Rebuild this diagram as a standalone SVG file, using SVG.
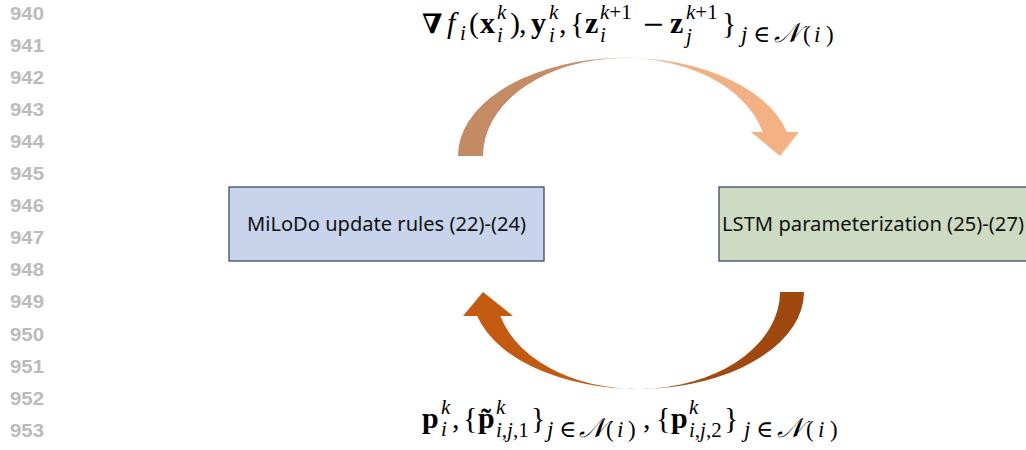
<svg xmlns="http://www.w3.org/2000/svg" width="1026" height="450" viewBox="0 0 1026 450">
<defs>
<linearGradient id="gTop" gradientUnits="userSpaceOnUse" x1="458" y1="0" x2="799" y2="0">
<stop offset="0" stop-color="#C38A63"/>
<stop offset="0.47" stop-color="#C78F69"/>
<stop offset="0.53" stop-color="#F2AF81"/>
<stop offset="1" stop-color="#F4B183"/>
</linearGradient>
<linearGradient id="gBot" gradientUnits="userSpaceOnUse" x1="463" y1="0" x2="804" y2="0">
<stop offset="0" stop-color="#C55A11"/>
<stop offset="0.47" stop-color="#C35911"/>
<stop offset="0.53" stop-color="#A44B0F"/>
<stop offset="1" stop-color="#9E480E"/>
</linearGradient>
</defs>
<style>
.ln{font-family:"Liberation Sans",Arial,sans-serif;font-weight:bold;font-size:18px;fill:#BBBBBB}
.box{stroke:#3B4A66;stroke-width:1.3}
.bt{font-family:"Noto Sans",sans-serif;font-size:19px;fill:#111111}
.m{font-family:"Liberation Serif","DejaVu Serif",serif;font-size:30px;fill:#000000}
.b{font-weight:bold}
.i{font-style:italic}
.s{font-size:21px}
.sb{font-size:23px}
.cal{font-size:27px}
.sym{font-family:"DejaVu Serif",serif;font-size:27px}
</style>
<rect width="1026" height="450" fill="#FFFFFF"/>
<g id="line-numbers">
<text class="ln" x="10" y="19.5" textLength="34" lengthAdjust="spacingAndGlyphs">940</text>
<text class="ln" x="10" y="51.6" textLength="34" lengthAdjust="spacingAndGlyphs">941</text>
<text class="ln" x="10" y="83.7" textLength="34" lengthAdjust="spacingAndGlyphs">942</text>
<text class="ln" x="10" y="115.8" textLength="34" lengthAdjust="spacingAndGlyphs">943</text>
<text class="ln" x="10" y="147.9" textLength="34" lengthAdjust="spacingAndGlyphs">944</text>
<text class="ln" x="10" y="180" textLength="34" lengthAdjust="spacingAndGlyphs">945</text>
<text class="ln" x="10" y="212.1" textLength="34" lengthAdjust="spacingAndGlyphs">946</text>
<text class="ln" x="10" y="244.2" textLength="34" lengthAdjust="spacingAndGlyphs">947</text>
<text class="ln" x="10" y="276.3" textLength="34" lengthAdjust="spacingAndGlyphs">948</text>
<text class="ln" x="10" y="308.4" textLength="34" lengthAdjust="spacingAndGlyphs">949</text>
<text class="ln" x="10" y="340.5" textLength="34" lengthAdjust="spacingAndGlyphs">950</text>
<text class="ln" x="10" y="372.6" textLength="34" lengthAdjust="spacingAndGlyphs">951</text>
<text class="ln" x="10" y="404.7" textLength="34" lengthAdjust="spacingAndGlyphs">952</text>
<text class="ln" x="10" y="436.8" textLength="34" lengthAdjust="spacingAndGlyphs">953</text>
</g>
<g id="node-milodo">
<rect class="box" x="229" y="187" width="315" height="74" fill="#C7D4EC"/>
<text class="bt" x="247" y="231" textLength="279" lengthAdjust="spacingAndGlyphs">MiLoDo update rules (22)-(24)</text>
</g>
<g id="node-lstm">
<rect class="box" x="719" y="187" width="330" height="74" fill="#CDDBC3"/>
<text class="bt" x="722" y="231" textLength="302" lengthAdjust="spacingAndGlyphs">LSTM parameterization (25)-(27)</text>
</g>
<g id="connectors">
<path id="arrow-top" d="M 458 156 A 167 98 0 0 1 787 132 L 799 132 L 780 156 L 751 132 L 762.7 132 A 142 98 0 0 0 483 156 Z" fill="url(#gTop)"/>
<path id="arrow-bottom" d="M 804 292 A 166 97 0 0 1 477.2 316 L 463 316 L 483 292 L 513 316 L 500.4 316 A 142 97 0 0 0 780 292 Z" fill="url(#gBot)"/>
</g>
<g id="label-top">
<text class="sym b" x="422" y="33">∇</text>
<text class="m i" x="447" y="33">f</text>
<text class="m i s" x="460" y="40">i</text>
<text class="m" x="469" y="33">(</text>
<text class="m b" x="480" y="33">x</text>
<text class="m i s" x="497" y="19">k</text>
<text class="m i s" x="497" y="42">i</text>
<text class="m" x="510" y="33">)</text>
<text class="m" x="519" y="33">,</text>
<text class="m b" x="531" y="33">y</text>
<text class="m i s" x="549" y="19">k</text>
<text class="m i s" x="549" y="42">i</text>
<text class="m" x="559" y="33">,</text>
<text class="m" x="570" y="33">{</text>
<text class="m b" x="585" y="33">z</text>
<text class="m s" x="600" y="19"><tspan class="i">k</tspan>+1</text>
<text class="m i s" x="600" y="42">i</text>
<text class="sym" x="642" y="33">−</text>
<text class="m b" x="670" y="33">z</text>
<text class="m s" x="686" y="19"><tspan class="i">k</tspan>+1</text>
<text class="m i s" x="686" y="43">j</text>
<text class="m" x="722" y="33">}</text>
<text class="m sb" y="42"><tspan class="i" x="741">j</tspan><tspan x="753">∈</tspan><tspan class="i cal" x="774">𝒩</tspan><tspan x="803">(</tspan><tspan class="i" x="814">i</tspan><tspan x="826">)</tspan></text>
</g>
<g id="label-bottom">
<text class="m b" x="422" y="428">p</text>
<text class="m i s" x="441" y="414">k</text>
<text class="m i s" x="441" y="436">i</text>
<text class="m" x="452" y="428">,</text>
<text class="m" x="463" y="428">{</text>
<text class="m b" x="478" y="428">p̃</text>
<text class="m i s" x="496" y="414">k</text>
<text class="m s" x="496" y="437"><tspan class="i">i</tspan>,<tspan class="i">j</tspan>,1</text>
<text class="m" x="531" y="428">}</text>
<text class="m sb" y="437"><tspan class="i" x="547">j</tspan><tspan x="559">∈</tspan><tspan class="i cal" x="579">𝒩</tspan><tspan x="606">(</tspan><tspan class="i" x="617">i</tspan><tspan x="628">)</tspan></text>
<text class="m" x="643" y="428">,</text>
<text class="m" x="656" y="428">{</text>
<text class="m b" x="671" y="428">p</text>
<text class="m i s" x="689" y="414">k</text>
<text class="m s" x="689" y="437"><tspan class="i">i</tspan>,<tspan class="i">j</tspan>,2</text>
<text class="m" x="724" y="428">}</text>
<text class="m sb" y="437"><tspan class="i" x="744">j</tspan><tspan x="756">∈</tspan><tspan class="i cal" x="777">𝒩</tspan><tspan x="806">(</tspan><tspan class="i" x="818">i</tspan><tspan x="830">)</tspan></text>
</g>
</svg>
